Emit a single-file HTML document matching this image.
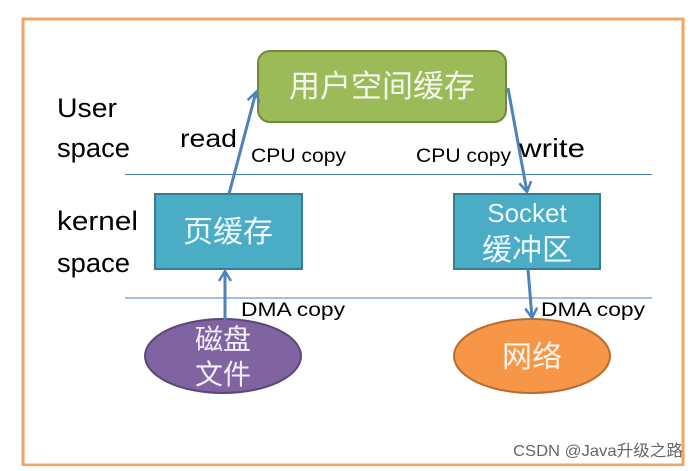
<!DOCTYPE html>
<html><head><meta charset="utf-8"><style>
body{margin:0;background:#fff;}
svg text{font-family:"Liberation Sans","Noto Sans CJK SC",sans-serif;}
</style></head><body>
<svg width="697" height="466" viewBox="0 0 697 466" xmlns="http://www.w3.org/2000/svg">
<defs>
<marker id="a" markerWidth="14" markerHeight="14" refX="11" refY="7" orient="auto" markerUnits="userSpaceOnUse">
<path d="M1,1 L11,7 L1,13" fill="none" stroke="#4F81BD" stroke-width="2.5"/>
</marker>
</defs>
<rect x="23" y="19" width="660" height="446" fill="#fff" stroke="#F4A460" stroke-width="3"/>
<line x1="125" y1="174.5" x2="652" y2="174.5" stroke="#4A7EBB" stroke-width="1"/>
<line x1="125" y1="298" x2="652" y2="298" stroke="#4A7EBB" stroke-width="1"/>
<rect x="258" y="51" width="248" height="71" rx="12" fill="#9BBB59" stroke="#71893F" stroke-width="2"/>
<text x="382" y="97" font-size="31" fill="#f4f8ec" text-anchor="middle">用户空间缓存</text>
<rect x="155" y="194" width="147" height="75" fill="#4BACC6" stroke="#357D91" stroke-width="2"/>
<text x="228" y="242" font-size="30" fill="#eef8fb" text-anchor="middle">页缓存</text>
<rect x="454" y="194" width="146" height="75" fill="#4BACC6" stroke="#357D91" stroke-width="2"/>
<text x="527" y="222" font-size="26" fill="#eef8fb" text-anchor="middle">Socket</text>
<text x="527" y="260" font-size="30" fill="#eef8fb" text-anchor="middle">缓冲区</text>
<ellipse cx="223" cy="356" rx="78" ry="37" fill="#8064A2" stroke="#5C4776" stroke-width="2"/>
<text x="223" y="349" font-size="28" fill="#f3eff8" text-anchor="middle">磁盘</text>
<text x="223" y="384" font-size="28" fill="#f3eff8" text-anchor="middle">文件</text>
<ellipse cx="532" cy="356" rx="78" ry="37" fill="#F79646" stroke="#B66D31" stroke-width="2"/>
<text x="532" y="367" font-size="30" fill="#fff6ee" text-anchor="middle">网络</text>
<g stroke="#4F81BD" stroke-width="3" fill="none">
<line x1="229" y1="194" x2="256" y2="92" marker-end="url(#a)"/>
<line x1="508" y1="88" x2="527" y2="192" marker-end="url(#a)"/>
<line x1="225" y1="320" x2="225" y2="271" marker-end="url(#a)"/>
<line x1="528" y1="269" x2="532" y2="318" marker-end="url(#a)"/>
</g>
<g font-size="27" fill="#000">
<text x="57" y="117" textLength="60" lengthAdjust="spacingAndGlyphs">User</text>
<text x="57" y="157" textLength="73" lengthAdjust="spacingAndGlyphs">space</text>
<text x="57" y="230" textLength="81" lengthAdjust="spacingAndGlyphs">kernel</text>
<text x="57" y="272" textLength="73" lengthAdjust="spacingAndGlyphs">space</text>
</g>
<text x="180" y="147" font-size="25" textLength="57" lengthAdjust="spacingAndGlyphs">read</text>
<text x="519" y="157" font-size="26" textLength="66" lengthAdjust="spacingAndGlyphs">write</text>
<g font-size="19" fill="#000">
<text x="251" y="162" textLength="95" lengthAdjust="spacingAndGlyphs">CPU copy</text>
<text x="416" y="162" textLength="95" lengthAdjust="spacingAndGlyphs">CPU copy</text>
<text x="241" y="316" textLength="104" lengthAdjust="spacingAndGlyphs">DMA copy</text>
<text x="541" y="316" textLength="104" lengthAdjust="spacingAndGlyphs">DMA copy</text>
</g>
<text x="513" y="456" font-size="16" fill="#666" textLength="170" lengthAdjust="spacingAndGlyphs">CSDN @Java升级之路</text>
</svg>
</body></html>
